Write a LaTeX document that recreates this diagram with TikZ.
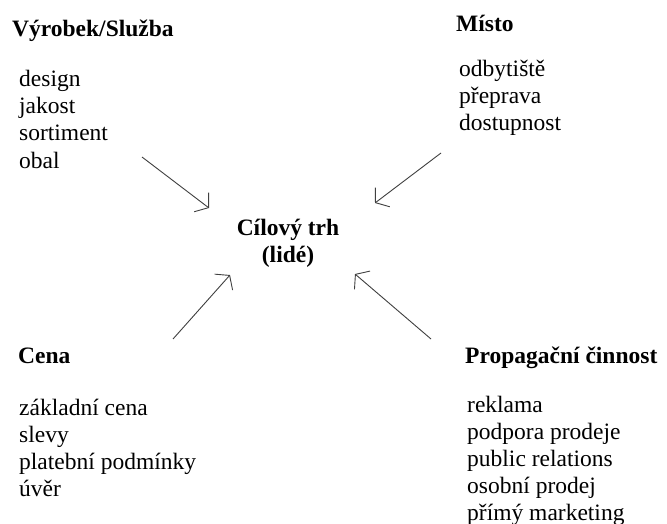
\documentclass[tikz,border=0pt]{standalone}
\usepackage{fontspec}
\setmainfont{Liberation Serif}
\usetikzlibrary{arrows.meta}

\tikzset{
  head/.style={anchor=base west, inner sep=0pt, font=\fontsize{23.5}{27}\selectfont\bfseries},
  item/.style={anchor=base west, inner sep=0pt, font=\fontsize{23.5}{27}\selectfont},
  centre/.style={anchor=base, inner sep=0pt, font=\fontsize{23.5}{27}\selectfont\bfseries},
  pointer/.style={draw=black!75, line width=0.9pt,
    -{Straight Barb[length=9pt, width=24pt, line width=0.9pt]}}
}

\begin{document}
\begin{tikzpicture}[x=1pt, y=-1pt]
  \useasboundingbox[fill=white] (0,0) rectangle (667,524);

  % centre
  \node[centre] (cil) at (288,235) {Cílový trh};
  \node[centre] (lide) at (288,262) {(lidé)};

  % product
  \node[head] (vyrobek) at (12,37) {Výrobek/Služba};
  \foreach \t [count=\i] in {design, jakost, sortiment, obal}
    \node[item] (v\i) at (19,{87+27*(\i-1)}) {\t};

  % place
  \node[head] (misto) at (456,32) {Místo};
  \foreach \t [count=\i] in {odbytiště, přeprava, dostupnost}
    \node[item] (m\i) at (459,{77+27*(\i-1)}) {\t};

  % price
  \node[head] (cena) at (18,363) {Cena};
  \foreach \t [count=\i] in {základní cena, slevy, platební podmínky, úvěr}
    \node[item] (c\i) at (19,{415+27*(\i-1)}) {\t};

  % promotion
  \node[head] (propag) at (465,363) {Propagační činnost};
  \foreach \t [count=\i] in {reklama, podpora prodeje, public relations, osobní prodej, přímý marketing}
    \node[item] (p\i) at (467,{412+27*(\i-1)}) {\t};

  % arrows towards the centre
  \coordinate (a1s) at (142,157);  \coordinate (a1e) at (209,208);
  \coordinate (a2s) at (441,153);  \coordinate (a2e) at (375,203);
  \coordinate (a3s) at (173,339);  \coordinate (a3e) at (230,275);
  \coordinate (a4s) at (431,339);  \coordinate (a4e) at (355,274);
  \draw[pointer] (a1s) -- (a1e);
  \draw[pointer] (a2s) -- (a2e);
  \draw[pointer] (a3s) -- (a3e);
  \draw[pointer] (a4s) -- (a4e);
\end{tikzpicture}
\end{document}
